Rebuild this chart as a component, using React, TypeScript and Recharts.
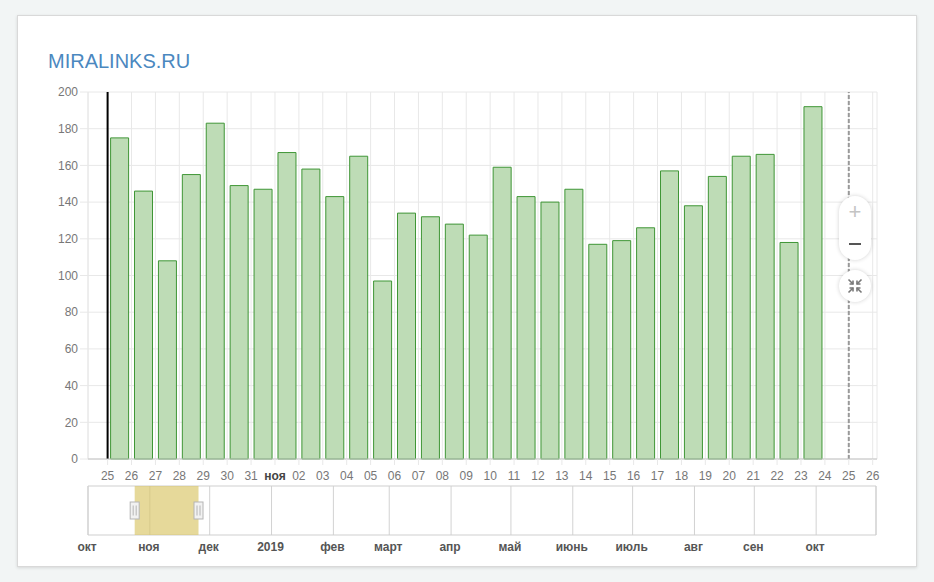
import React from 'react';
import {
  ComposedChart,
  Bar,
  Line,
  XAxis,
  YAxis,
  CartesianGrid,
  ReferenceLine,
  ReferenceArea,
} from 'recharts';

// ---- data ----
const dayLabels = [
  '25', '26', '27', '28', '29', '30', '31', 'ноя', '02', '03', '04', '05', '06', '07', '08', '09', '10',
  '11', '12', '13', '14', '15', '16', '17', '18', '19', '20', '21', '22', '23', '24', '25', '26',
];
const values = [
  175, 146, 108, 155, 183, 149, 147, 167, 158, 143, 165, 97, 134, 132, 128, 122, 159, 143, 140, 147,
  117, 119, 126, 157, 138, 154, 165, 166, 118, 192,
];
const yTicks = [0, 20, 40, 60, 80, 100, 120, 140, 160, 180, 200];
const monthLabels = ['окт', 'ноя', 'дек', '2019', 'фев', 'март', 'апр', 'май', 'июнь', 'июль', 'авг', 'сен', 'окт'];
const monthStarts = [0, 31, 61, 92, 123, 151, 182, 212, 243, 273, 304, 334, 365];
const navDomain: [number, number] = [0, 395];
const navSelection: [number, number] = [23.4, 55.4];
const mainDomain: [number, number] = [-0.82, 32.18];
const todayIndex = 31;

const barData = values.map((v, i) => ({ d: i + 0.5, v }));
const dayTicks = dayLabels.map((_, i) => i);
const navData = [
  { t: navDomain[0], y: 0 },
  { t: navDomain[1], y: 0 },
];

const FONT = '"Liberation Sans", Arial, Helvetica, sans-serif';

const DayTick = (props: any) => {
  const { x, y, payload } = props;
  const label = dayLabels[payload.value];
  const bold = label === 'ноя';
  return (
    <text
      x={x}
      y={y}
      dy="0.71em"
      textAnchor="middle"
      fontSize={12}
      fill={bold ? '#444' : '#777'}
      fontWeight={bold ? 'bold' : 'normal'}
    >
      {label}
    </text>
  );
};

const MonthTick = (props: any) => {
  const { x, payload } = props;
  const idx = monthStarts.indexOf(payload.value);
  return (
    <text x={x - 1} y={550.5} textAnchor="middle" fontSize={12} fontWeight="bold" fill="#555">
      {monthLabels[idx]}
    </text>
  );
};

const Handle = ({ cx, cy }: { cx: number; cy: number }) => (
  <g>
    <rect x={cx - 4.5} y={cy - 8.5} width={9} height={17} fill="#f2f2f2" stroke="#b5b5b5" strokeWidth={1} />
    <line x1={cx - 1.5} y1={cy - 5} x2={cx - 1.5} y2={cy + 5} stroke="#b5b5b5" strokeWidth={1} />
    <line x1={cx + 1.5} y1={cy - 5} x2={cx + 1.5} y2={cy + 5} stroke="#b5b5b5" strokeWidth={1} />
  </g>
);

const SelectionShape = (props: any) => {
  const { x, y, width, height } = props;
  const cy = y + height / 2;
  return (
    <g>
      <rect x={x} y={y} width={width} height={height} fill="rgba(217,196,100,0.65)" stroke="none" />
      <Handle cx={x} cy={cy} />
      <Handle cx={x + width} cy={cy} />
    </g>
  );
};

const CompressIcon = () => (
  <svg width="16" height="16" viewBox="0 0 16 16">
    <g stroke="#777" strokeWidth="1.6" fill="none">
      <line x1="1.5" y1="1.5" x2="6" y2="6" />
      <polyline points="6,2.5 6,6 2.5,6" />
      <line x1="14.5" y1="1.5" x2="10" y2="6" />
      <polyline points="10,2.5 10,6 13.5,6" />
      <line x1="1.5" y1="14.5" x2="6" y2="10" />
      <polyline points="6,13.5 6,10 2.5,10" />
      <line x1="14.5" y1="14.5" x2="10" y2="10" />
      <polyline points="10,13.5 10,10 13.5,10" />
    </g>
  </svg>
);

export default function App() {
  return (
    <div
      style={{
        position: 'fixed',
        left: 0,
        top: 0,
        width: 934,
        height: 582,
        background: '#f2f5f5',
        fontFamily: FONT,
        overflow: 'hidden',
      }}
    >
      <div
        style={{
          position: 'absolute',
          left: 17,
          top: 15,
          width: 898,
          height: 550,
          background: '#fff',
          border: '1px solid #d9d9d9',
          boxShadow: '0 1px 3px rgba(0,0,0,0.12)',
        }}
      />
      <div
        style={{
          position: 'absolute',
          left: 48,
          top: 51,
          fontSize: 20,
          lineHeight: '20px',
          color: '#4b88bf',
          whiteSpace: 'nowrap',
        }}
      >
        MIRALINKS.RU
      </div>

      <div style={{ position: 'absolute', left: 0, top: 0 }}>
        <ComposedChart
          width={934}
          height={582}
          data={barData}
          margin={{ top: 92, right: 57, bottom: 93, left: 28 }}
        >
          <CartesianGrid stroke="#e8e8e8" strokeWidth={1} />
          <XAxis
            dataKey="d"
            type="number"
            domain={mainDomain}
            ticks={dayTicks}
            interval={0}
            allowDataOverflow
            height={30}
            tick={<DayTick />}
            tickSize={6}
            tickMargin={6}
            tickLine={{ stroke: '#e8e8e8' }}
            axisLine={{ stroke: '#c4c4c4' }}
          />
          <YAxis
            type="number"
            domain={[0, 200]}
            ticks={yTicks}
            interval={0}
            width={60}
            axisLine={false}
            tickSize={8}
            tickMargin={2}
            tickLine={{ stroke: '#e8e8e8' }}
            tick={{ fill: '#777', fontSize: 12 }}
          />
          <ReferenceLine x={mainDomain[0]} stroke="#e8e8e8" strokeWidth={1} />
          <Bar
            dataKey="v"
            barSize={18}
            fill="#bedcb6"
            stroke="#3f9636"
            strokeWidth={1}
            isAnimationActive={false}
          />
          <ReferenceLine x={0} stroke="#000" strokeWidth={2} />
          <ReferenceLine x={todayIndex} stroke="#999" strokeWidth={2} strokeDasharray="4 2" />
        </ComposedChart>
      </div>

      <div style={{ position: 'absolute', left: 0, top: 0 }}>
        <ComposedChart
          width={934}
          height={582}
          data={navData}
          margin={{ top: 486, right: 58, bottom: 17, left: 88 }}
        >
          <CartesianGrid stroke="#d2d2d2" horizontal={false} />
          <XAxis
            dataKey="t"
            type="number"
            domain={navDomain}
            ticks={monthStarts}
            interval={0}
            height={30}
            tickLine={false}
            axisLine={false}
            tick={<MonthTick />}
          />
          <YAxis hide domain={[0, 1]} />
          <ReferenceArea
            x1={navDomain[0]}
            x2={navDomain[1]}
            y1={0}
            y2={1}
            fill="none"
            stroke="#cfcfcf"
            strokeWidth={1}
          />
          <Line dataKey="y" stroke="none" dot={false} isAnimationActive={false} />
          <ReferenceArea
            x1={navSelection[0]}
            x2={navSelection[1]}
            y1={0}
            y2={1}
            shape={<SelectionShape />}
          />
        </ComposedChart>
      </div>

      {/* zoom controls */}
      <div
        style={{
          position: 'absolute',
          left: 839,
          top: 196,
          width: 32,
          height: 64,
          borderRadius: 16,
          background: '#fff',
          boxShadow: '0 0 4px rgba(0,0,0,0.18)',
        }}
      >
        <div
          style={{
            position: 'absolute',
            left: 0,
            top: 4,
            width: 32,
            height: 24,
            textAlign: 'center',
            fontSize: 22,
            lineHeight: '24px',
            color: '#c4c4c4',
          }}
        >
          +
        </div>
        <div
          style={{
            position: 'absolute',
            left: 10,
            top: 47,
            width: 12,
            height: 2,
            background: '#555',
          }}
        />
      </div>
      <div
        style={{
          position: 'absolute',
          left: 839,
          top: 270,
          width: 32,
          height: 32,
          borderRadius: 16,
          background: '#fff',
          boxShadow: '0 0 4px rgba(0,0,0,0.18)',
          display: 'flex',
          alignItems: 'center',
          justifyContent: 'center',
        }}
      >
        <CompressIcon />
      </div>
    </div>
  );
}
